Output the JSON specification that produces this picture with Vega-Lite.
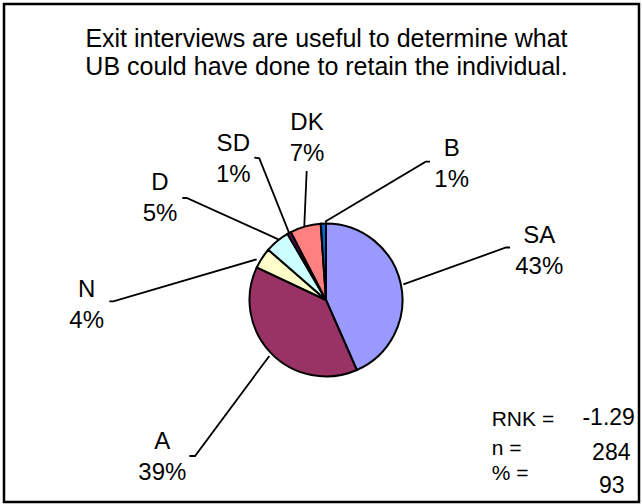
{
  "$schema": "https://vega.github.io/schema/vega-lite/v6.json",
  "width": 635,
  "height": 498,
  "padding": {"left": 4, "top": 4, "right": 3, "bottom": 2},
  "autosize": {"type": "none"},
  "background": "white",
  "config": {
    "view": {"stroke": "black", "strokeWidth": 2.5},
    "font": "Liberation Sans",
    "text": {"font": "Liberation Sans", "color": "black"}
  },
  "datasets": {
    "slices": [
      {"cat": "SA", "value": 43.4, "order": 1},
      {"cat": "A", "value": 38.6, "order": 2},
      {"cat": "N", "value": 4.4, "order": 3},
      {"cat": "D", "value": 5.2, "order": 4},
      {"cat": "SD", "value": 0.8, "order": 5},
      {"cat": "DK", "value": 6.5, "order": 6},
      {"cat": "B", "value": 1.1, "order": 7}
    ],
    "labels": [
      {"cat": "SA", "pct": 0.43, "lx": 2.770, "ly": 0.744},
      {"cat": "A", "pct": 0.39, "lx": -2.126, "ly": -1.939},
      {"cat": "N", "pct": 0.04, "lx": -3.108, "ly": 0.043},
      {"cat": "D", "pct": 0.05, "lx": -2.156, "ly": 1.429},
      {"cat": "SD", "pct": 0.01, "lx": -1.204, "ly": 1.939},
      {"cat": "DK", "pct": 0.07, "lx": -0.247, "ly": 2.214},
      {"cat": "B", "pct": 0.01, "lx": 1.632, "ly": 1.874}
    ],
    "leaders": [
      {"cat": "SA", "seq": 1, "u": 2.390, "v": 0.682},
      {"cat": "SA", "seq": 2, "u": 2.338, "v": 0.682},
      {"cat": "SA", "seq": 3, "u": 1.004, "v": 0.204},
      {"cat": "B", "seq": 1, "u": 1.351, "v": 1.796},
      {"cat": "B", "seq": 2, "u": 1.295, "v": 1.796},
      {"cat": "B", "seq": 3, "u": -0.013, "v": 1.017},
      {"cat": "DK", "seq": 1, "u": -0.251, "v": 1.675},
      {"cat": "DK", "seq": 2, "u": -0.282, "v": 0.961},
      {"cat": "SD", "seq": 1, "u": -0.931, "v": 1.848},
      {"cat": "SD", "seq": 2, "u": -0.866, "v": 1.840},
      {"cat": "SD", "seq": 3, "u": -0.477, "v": 0.866},
      {"cat": "D", "seq": 1, "u": -1.866, "v": 1.325},
      {"cat": "D", "seq": 2, "u": -1.809, "v": 1.325},
      {"cat": "D", "seq": 3, "u": -0.619, "v": 0.788},
      {"cat": "N", "seq": 1, "u": -2.814, "v": -0.019},
      {"cat": "N", "seq": 2, "u": -2.762, "v": -0.019},
      {"cat": "N", "seq": 3, "u": -0.900, "v": 0.529},
      {"cat": "A", "seq": 1, "u": -1.775, "v": -2.026},
      {"cat": "A", "seq": 2, "u": -1.701, "v": -2.026},
      {"cat": "A", "seq": 3, "u": -0.736, "v": -0.727}
    ],
    "stats": [
      {"key": "RNK =", "val": "-1.29", "ky": -1.632, "vx": 3.671, "vy": -1.623},
      {"key": "n =", "val": "284", "ky": -2.013, "vx": 3.705, "vy": -2.078},
      {"key": "% =", "val": "93", "ky": -2.338, "vx": 3.710, "vy": -2.510}
    ],
    "title": [
      {"line1": "Exit interviews are useful to determine what", "line2": "UB could have done to retain the individual."}
    ]
  },
  "layer": [
    {
      "data": {"name": "title"},
      "mark": {"type": "text", "align": "center", "baseline": "alphabetic", "fontSize": 25, "text": ["Exit interviews are useful to determine what", "UB could have done to retain the individual."], "lineHeight": 28.5},
      "encoding": {
        "x": {"datum": 0.006, "type": "quantitative", "scale": {"domain": [-4.1818, 4.0649], "nice": false, "zero": false}, "axis": null},
        "y": {"datum": 3.290, "type": "quantitative", "scale": {"domain": [-2.6234, 3.8442], "nice": false, "zero": false}, "axis": null}
      }
    },
    {
      "data": {"name": "slices"},
      "mark": {"type": "arc", "outerRadius": 76.5, "stroke": "black", "strokeWidth": 2},
      "encoding": {
        "x": {"datum": 0, "type": "quantitative", "scale": {"domain": [-4.1818, 4.0649], "nice": false, "zero": false}, "axis": null},
        "y": {"datum": 0, "type": "quantitative", "scale": {"domain": [-2.6234, 3.8442], "nice": false, "zero": false}, "axis": null},
        "theta": {"field": "value", "type": "quantitative", "stack": true},
        "order": {"field": "order", "type": "quantitative"},
        "color": {
          "field": "cat",
          "type": "nominal",
          "scale": {
            "domain": ["SA", "A", "N", "D", "SD", "DK", "B"],
            "range": ["#9999FF", "#993366", "#FFFFCC", "#CCFFFF", "#660066", "#FF8080", "#0066CC"]
          },
          "legend": null
        }
      }
    },
    {
      "data": {"name": "leaders"},
      "mark": {"type": "line", "color": "black", "strokeWidth": 1.8},
      "encoding": {
        "x": {"field": "u", "type": "quantitative", "scale": {"domain": [-4.1818, 4.0649], "nice": false, "zero": false}, "axis": null},
        "y": {"field": "v", "type": "quantitative", "scale": {"domain": [-2.6234, 3.8442], "nice": false, "zero": false}, "axis": null},
        "detail": {"field": "cat", "type": "nominal"},
        "order": {"field": "seq", "type": "quantitative"}
      }
    },
    {
      "data": {"name": "labels"},
      "mark": {"type": "text", "align": "center", "baseline": "alphabetic", "fontSize": 24},
      "encoding": {
        "x": {"field": "lx", "type": "quantitative", "scale": {"domain": [-4.1818, 4.0649], "nice": false, "zero": false}, "axis": null},
        "y": {"field": "ly", "type": "quantitative", "scale": {"domain": [-2.6234, 3.8442], "nice": false, "zero": false}, "axis": null},
        "text": {"field": "cat", "type": "nominal"}
      }
    },
    {
      "data": {"name": "labels"},
      "mark": {"type": "text", "align": "center", "baseline": "alphabetic", "fontSize": 24, "dy": 31},
      "encoding": {
        "x": {"field": "lx", "type": "quantitative", "scale": {"domain": [-4.1818, 4.0649], "nice": false, "zero": false}, "axis": null},
        "y": {"field": "ly", "type": "quantitative", "scale": {"domain": [-2.6234, 3.8442], "nice": false, "zero": false}, "axis": null},
        "text": {"field": "pct", "type": "quantitative", "format": ".0%"}
      }
    },
    {
      "data": {"name": "stats"},
      "mark": {"type": "text", "align": "left", "baseline": "alphabetic", "fontSize": 21},
      "encoding": {
        "x": {"datum": 2.152, "type": "quantitative", "scale": {"domain": [-4.1818, 4.0649], "nice": false, "zero": false}, "axis": null},
        "y": {"field": "ky", "type": "quantitative", "scale": {"domain": [-2.6234, 3.8442], "nice": false, "zero": false}, "axis": null},
        "text": {"field": "key", "type": "nominal"}
      }
    },
    {
      "data": {"name": "stats"},
      "mark": {"type": "text", "align": "center", "baseline": "alphabetic", "fontSize": 23},
      "encoding": {
        "x": {"field": "vx", "type": "quantitative", "scale": {"domain": [-4.1818, 4.0649], "nice": false, "zero": false}, "axis": null},
        "y": {"field": "vy", "type": "quantitative", "scale": {"domain": [-2.6234, 3.8442], "nice": false, "zero": false}, "axis": null},
        "text": {"field": "val", "type": "nominal"}
      }
    }
  ]
}
